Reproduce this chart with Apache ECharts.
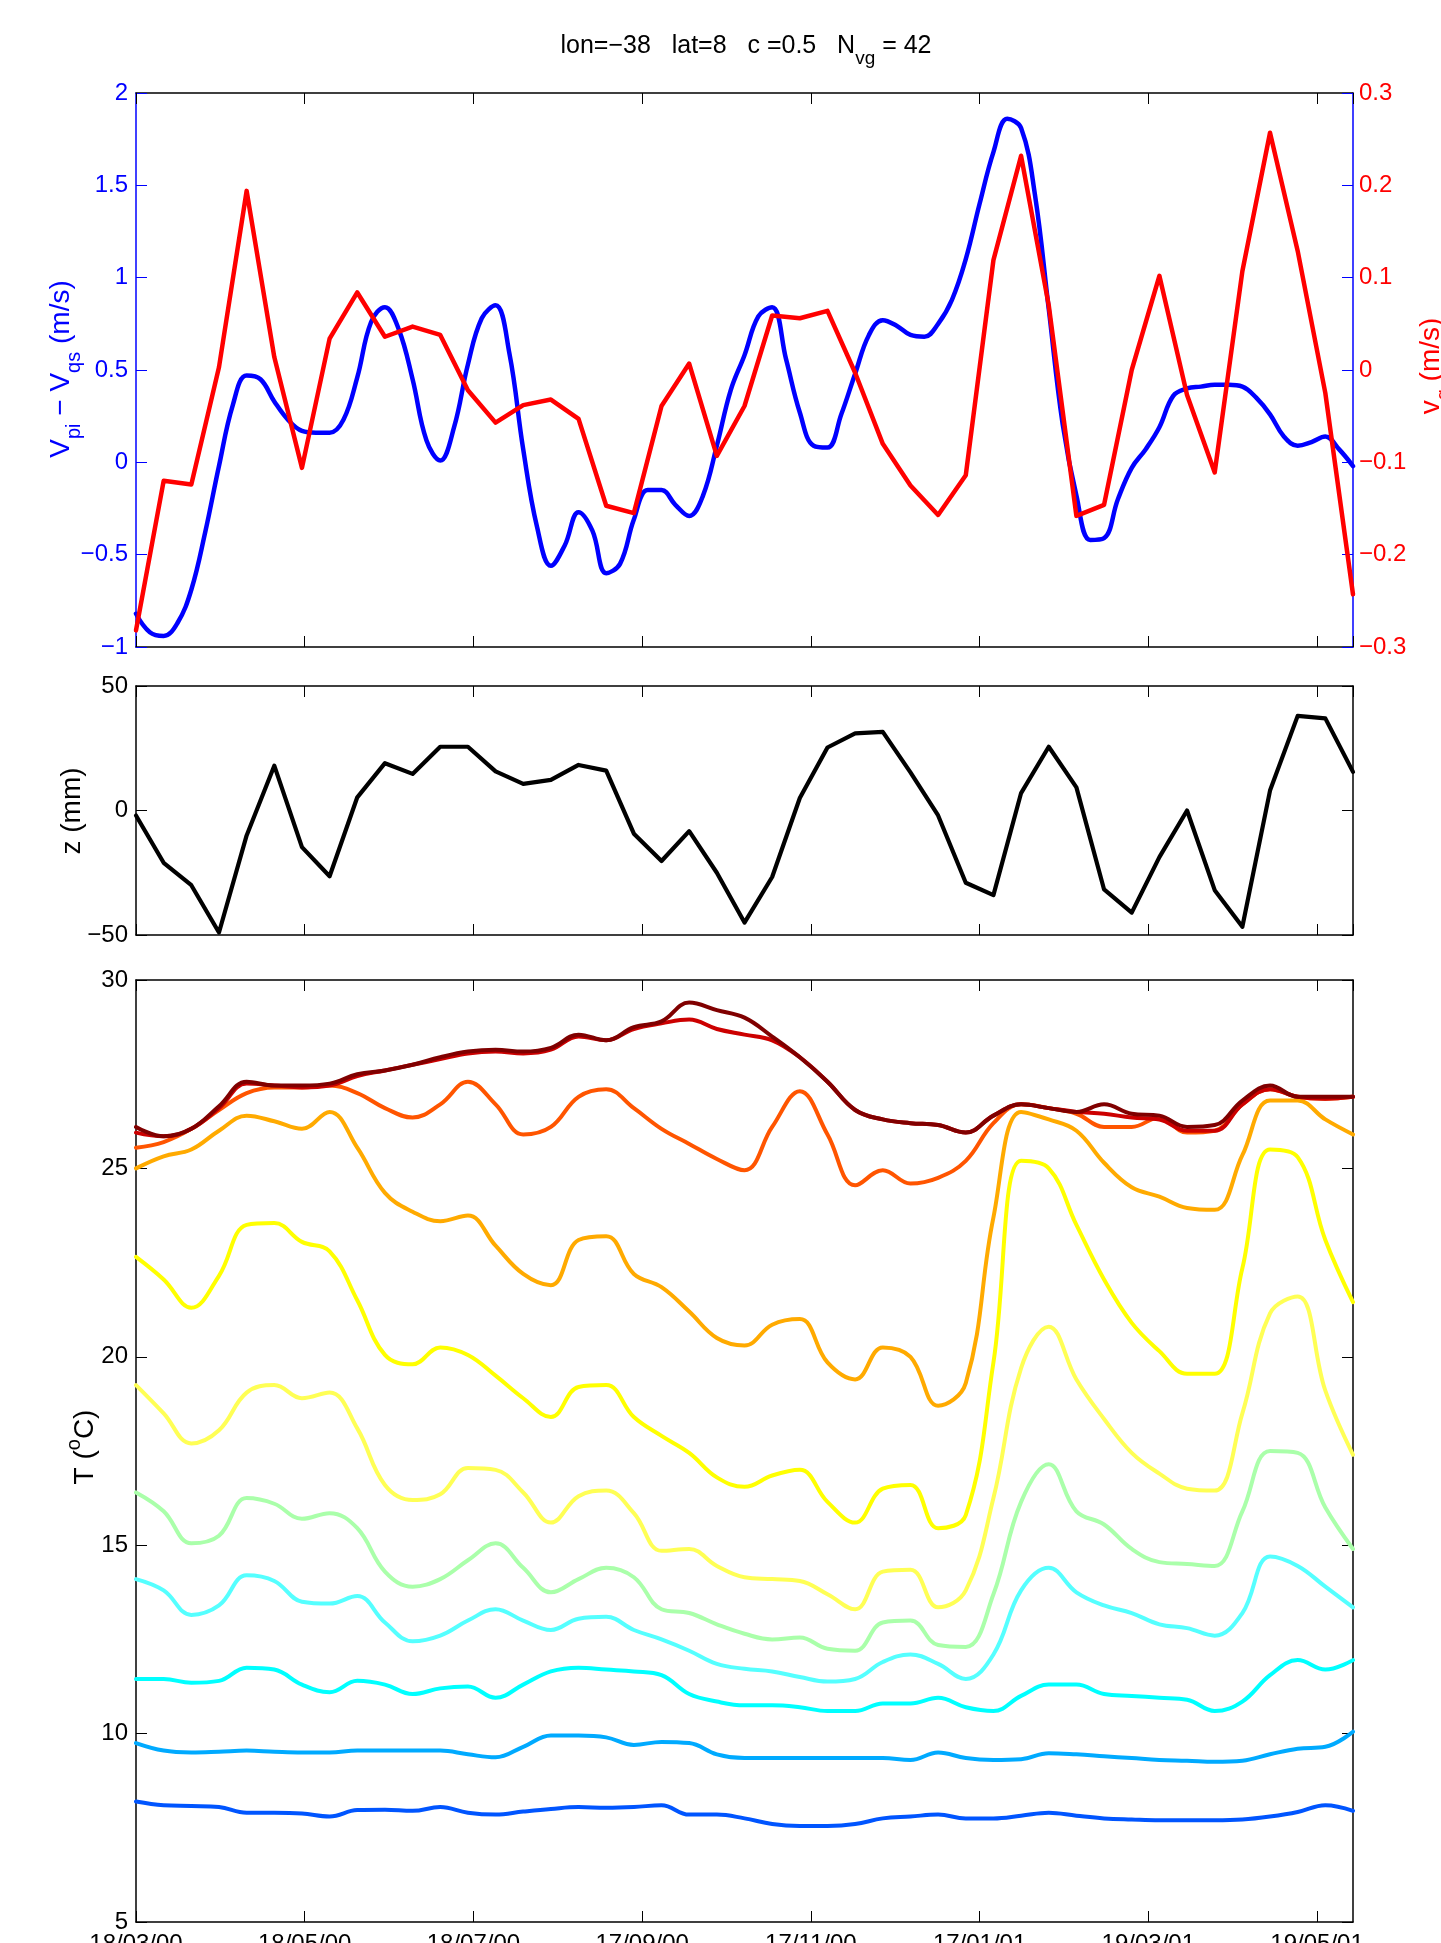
<!DOCTYPE html>
<html><head><meta charset="utf-8">
<script src="https://cdn.jsdelivr.net/npm/echarts@6/dist/echarts.min.js"></script>
<style>html,body{margin:0;padding:0;background:#fff}#c{width:1441px;height:1943px}</style>
</head><body><div id="c"></div><script>
// ---------- DATA ----------
const dayGrid5 = [0,5,10,15,20,25,30,35,40,45,50,55,60,65,70,75,80,85,90,95,100,105,110,115,120,125,130,135,140,145,150,155,160,165,170,175,180,185,190,195,200,205,210,215,220,225,230,235,240,245,250,255,260,265,270,275,280,285,290,295,300,305,310,315,320,325,330,335,340,345,350,355,360,365,370,375,380,385,390,395,400,405,410,415,420,425,430,435,440];
const dayGrid10 = [0,10,20,30,40,50,60,70,80,90,100,110,120,130,140,150,160,170,180,190,200,210,220,230,240,250,260,270,280,290,300,310,320,330,340,350,360,370,380,390,400,410,420,430,440];
const dateTickLabels = ['18/03/00','18/05/00','18/07/00','17/09/00','17/11/00','17/01/01','19/03/01','19/05/01'];

// V_pi - V_qs (m/s), left axis, every 5 days
const vpiMinusVqs = [-0.82,-0.92,-0.94,-0.87,-0.69,-0.38,-0.02,0.31,0.47,0.45,0.33,0.23,0.17,0.16,0.16,0.23,0.46,0.76,0.84,0.72,0.45,0.12,0.01,0.19,0.53,0.78,0.85,0.59,0.07,-0.35,-0.56,-0.45,-0.27,-0.37,-0.60,-0.55,-0.31,-0.15,-0.15,-0.23,-0.29,-0.18,0.09,0.39,0.58,0.79,0.84,0.56,0.27,0.09,0.08,0.26,0.48,0.69,0.77,0.74,0.69,0.68,0.75,0.88,1.10,1.40,1.68,1.86,1.81,1.45,0.83,0.21,-0.18,-0.42,-0.41,-0.20,-0.03,0.07,0.19,0.36,0.40,0.41,0.42,0.42,0.41,0.35,0.26,0.14,0.09,0.11,0.14,0.07,-0.02];
// v_g (m/s), right axis, every 10 days
const vg = [-0.282,-0.12,-0.124,0.003,0.194,0.014,-0.106,0.034,0.084,0.036,0.047,0.038,-0.022,-0.057,-0.038,-0.032,-0.053,-0.147,-0.155,-0.039,0.007,-0.093,-0.039,0.059,0.056,0.064,-0.003,-0.08,-0.125,-0.157,-0.114,0.119,0.232,0.07,-0.158,-0.146,0.0,0.102,-0.027,-0.111,0.107,0.257,0.129,-0.025,-0.243];
// z (mm), every 10 days
const zmm = [-2,-21,-30,-49,-10,18,-14.7,-26.4,5.3,19,14.7,25.6,25.6,15.7,10.7,12.3,18.3,16,-9.3,-20.3,-8.3,-25,-45,-26.7,5,25.3,31,31.6,15.3,-2,-29,-34,7,25.6,9.3,-31.7,-41,-18.7,0,-32,-46.7,8,38,37,15.5];
// Temperature (deg C), every 10 days, shallow to deep
const tempDarkRed     = [26.1,25.85,26.05,26.65,27.3,27.2,27.2,27.25,27.5,27.6,27.75,27.95,28.1,28.15,28.1,28.2,28.55,28.4,28.75,28.9,29.4,29.2,29.0,28.5,27.95,27.3,26.55,26.3,26.2,26.15,25.95,26.4,26.7,26.6,26.5,26.7,26.45,26.4,26.1,26.15,26.8,27.2,26.9,26.9,26.9];
const tempRed         = [25.95,25.85,26.05,26.6,27.25,27.2,27.15,27.2,27.45,27.6,27.75,27.9,28.05,28.1,28.05,28.15,28.5,28.4,28.7,28.85,28.95,28.7,28.55,28.4,27.95,27.3,26.55,26.3,26.2,26.15,25.95,26.4,26.7,26.6,26.5,26.45,26.35,26.3,26.0,26.0,26.7,27.1,26.9,26.85,26.9];
const tempOrangeRed   = [25.55,25.7,26.05,26.55,27.0,27.15,27.15,27.2,27.0,26.6,26.35,26.7,27.3,26.7,25.9,26.1,26.9,27.1,26.6,26.05,25.65,25.25,24.95,26.1,27.05,25.9,24.55,24.95,24.6,24.75,25.2,26.2,26.7,26.6,26.45,26.1,26.1,26.35,25.95,26.0,26.7,27.1,26.9,26.85,26.9];
const tempOrange      = [25.0,25.32,25.5,26.0,26.4,26.25,26.05,26.5,25.55,24.35,23.85,23.6,23.75,22.95,22.2,21.9,23.1,23.2,22.2,21.85,21.2,20.5,20.3,20.85,21.0,19.85,19.4,20.25,20.0,18.7,19.3,23.7,26.5,26.3,26.0,25.15,24.5,24.25,23.95,23.9,25.35,26.8,26.8,26.3,25.9];
const tempYellow      = [22.65,22.05,21.3,22.15,23.5,23.55,23.05,22.8,21.5,20.05,19.8,20.25,20.05,19.5,18.9,18.4,19.2,19.25,18.4,17.9,17.45,16.8,16.55,16.85,17.0,16.15,15.6,16.5,16.6,15.45,15.8,19.85,25.2,25.0,23.5,22.05,20.9,20.15,19.55,19.55,22.35,25.5,25.3,23.1,21.45];
const tempLightYellow = [19.25,18.5,17.7,18.05,19.05,19.25,18.9,19.05,18.1,16.6,16.2,16.35,17.05,17.0,16.4,15.6,16.3,16.45,15.85,14.85,14.9,14.45,14.15,14.1,14.05,13.7,13.3,14.3,14.35,13.35,13.8,16.25,19.7,20.8,19.4,18.35,17.45,16.9,16.5,16.45,18.5,21.15,21.6,19.1,17.4];
const tempLightGreen  = [16.4,15.9,15.05,15.25,16.25,16.1,15.7,15.85,15.45,14.3,13.9,14.1,14.6,15.05,14.4,13.75,14.1,14.4,14.15,13.3,13.2,12.9,12.65,12.5,12.55,12.25,12.2,12.95,13.0,12.35,12.3,13.7,16.15,17.15,15.9,15.55,14.9,14.55,14.5,14.45,15.9,17.5,17.45,16.0,14.9];
const tempLightCyan   = [14.1,13.8,13.15,13.4,14.2,14.05,13.5,13.45,13.65,12.95,12.45,12.6,13.0,13.3,13.0,12.75,13.05,13.1,12.75,12.5,12.2,11.85,11.72,11.65,11.5,11.38,11.45,11.9,12.1,11.85,11.45,12.1,13.8,14.4,13.75,13.4,13.2,12.9,12.8,12.6,13.2,14.7,14.45,13.9,13.35];
const tempCyan        = [11.45,11.45,11.35,11.4,11.75,11.7,11.3,11.1,11.4,11.3,11.05,11.2,11.25,10.95,11.3,11.65,11.75,11.7,11.65,11.55,11.05,10.85,10.75,10.75,10.7,10.6,10.6,10.8,10.8,10.95,10.7,10.6,11.0,11.3,11.3,11.05,11.0,10.95,10.9,10.6,10.85,11.55,11.95,11.7,11.95];
const tempSkyBlue     = [9.75,9.55,9.5,9.52,9.55,9.52,9.5,9.5,9.55,9.55,9.55,9.55,9.45,9.37,9.65,9.95,9.95,9.9,9.7,9.78,9.75,9.45,9.35,9.35,9.35,9.35,9.35,9.35,9.3,9.5,9.35,9.3,9.32,9.48,9.45,9.4,9.35,9.3,9.28,9.25,9.28,9.45,9.6,9.65,10.05];
const tempBlue        = [8.2,8.1,8.08,8.05,7.9,7.9,7.88,7.8,7.97,7.98,7.95,8.05,7.9,7.85,7.93,8.0,8.05,8.03,8.05,8.1,7.85,7.85,7.75,7.6,7.55,7.55,7.6,7.75,7.8,7.85,7.75,7.75,7.82,7.9,7.82,7.75,7.72,7.7,7.7,7.7,7.72,7.8,7.92,8.1,7.95];

// ---------- CHART ----------
const FONT = '"Liberation Sans", Arial, Helvetica, sans-serif';
const FS = 24;      // tick labels
const LFS = 28;     // axis titles
const LSUB = 20;    // axis title sub/superscripts
const chart = echarts.init(document.getElementById('c'), null, {renderer: 'canvas'});

function fmtNum(v) {
  let r = Math.round(v * 100) / 100;
  if (Math.abs(r) < 1e-9) r = 0;
  return (r < 0 ? '\u2212' : '') + String(Math.abs(r));
}
function pairs(xs, ys) { return ys.map((y, i) => [xs[i], y]); }

const grids = [
  {left: 136, top: 93,  width: 1217, height: 554},
  {left: 136, top: 686, width: 1217, height: 249},
  {left: 136, top: 980, width: 1217, height: 942}
].map(g => Object.assign({show: false, containLabel: false, outerBoundsMode: 'none'}, g));

function xAx(gridIndex, position, labels) {
  return {
    type: 'value', gridIndex, position, min: 0, max: 440, interval: 61,
    splitLine: {show: false},
    axisLine: {show: true, onZero: false, lineStyle: {color: '#000', width: 1.5}},
    axisTick: {show: true, inside: true, length: 11, lineStyle: {color: '#000', width: 1}},
    axisLabel: labels ? {
      show: true, margin: 10, fontSize: FS, fontFamily: FONT, color: '#000',
      showMinLabel: true, showMaxLabel: false,
      formatter: v => { const k = Math.round(v / 61); return (Math.abs(v - 61 * k) < 1e-6 && k < dateTickLabels.length) ? dateTickLabels[k] : ''; }
    } : {show: false}
  };
}
function yAx(gridIndex, position, min, max, interval, opts) {
  opts = opts || {};
  return {
    type: 'value', gridIndex, position, min, max, interval,
    splitLine: {show: false},
    axisLine: {show: true, onZero: false, lineStyle: {color: opts.lineColor || '#000', width: 1.5}},
    axisTick: {show: true, inside: true, length: 11, lineStyle: {color: opts.lineColor || '#000', width: 1}},
    axisLabel: opts.labels ? {
      show: true, margin: opts.margin || 8, fontSize: FS, fontFamily: FONT, color: opts.labelColor || '#000',
      showMinLabel: true, showMaxLabel: true, formatter: fmtNum
    } : {show: false}
  };
}

const xAxes = [
  xAx(0, 'bottom', false), xAx(0, 'top', false),
  xAx(1, 'bottom', false), xAx(1, 'top', false),
  xAx(2, 'bottom', true),  xAx(2, 'top', false)
];
const yAxes = [
  yAx(0, 'left', -1, 2, 0.5, {labels: true, lineColor: '#0000ff', labelColor: '#0000ff', margin: 8}),
  yAx(0, 'right', -0.3, 0.3, 0.1, {labels: true, lineColor: '#0000ff', labelColor: '#ff0000', margin: 6}),
  yAx(1, 'left', -50, 50, 50, {labels: true, margin: 8}),
  yAx(1, 'right', -50, 50, 50, {labels: false}),
  yAx(2, 'left', 5, 30, 5, {labels: true, margin: 8}),
  yAx(2, 'right', 5, 30, 5, {labels: false})
];

function lineSeries(name, xi, yi, data, color, width, smooth) {
  return {
    name, type: 'line', xAxisIndex: xi, yAxisIndex: yi, data,
    showSymbol: false, symbol: 'none', smooth: smooth, animation: false,
    lineStyle: {color, width, cap: 'round', join: 'round'}, itemStyle: {color},
    emphasis: {disabled: true}
  };
}

const tempList = [
  ['T11', tempBlue,        '#0055ff'],
  ['T10', tempSkyBlue,     '#00aaff'],
  ['T9',  tempCyan,        '#00ffff'],
  ['T8',  tempLightCyan,   '#55ffff'],
  ['T7',  tempLightGreen,  '#aaffaa'],
  ['T6',  tempLightYellow, '#ffff55'],
  ['T5',  tempYellow,      '#ffff00'],
  ['T4',  tempOrange,      '#ffaa00'],
  ['T3',  tempOrangeRed,   '#ff5500'],
  ['T2',  tempRed,         '#cc0000'],
  ['T1',  tempDarkRed,     '#800000']
];

const series = [
  lineSeries('Vpi-Vqs', 0, 0, pairs(dayGrid5, vpiMinusVqs), '#0000ff', 4.5, 0.4),
  lineSeries('vg', 0, 1, pairs(dayGrid10, vg), '#ff0000', 4.5, false),
  lineSeries('z', 2, 2, pairs(dayGrid10, zmm), '#000000', 4.2, false)
].concat(tempList.map(t => lineSeries(t[0], 4, 4, pairs(dayGrid10, t[1]), t[2], 4, 0.4)));

const titleMain = {fontSize: 25, fontFamily: FONT, verticalAlign: 'top'};
const titleSub  = {fontSize: 19, fontFamily: FONT, verticalAlign: 'top', padding: [15, 0, 0, 0]};
const labMain = {fontSize: LFS, fontFamily: FONT, verticalAlign: 'top'};
const labSub  = {fontSize: LSUB, fontFamily: FONT, verticalAlign: 'top', padding: [17, 0, 0, 0]};

const graphics = [
  {type: 'text', x: 746, y: 51, silent: true, style: {
    text: '{m|lon=\u221238   lat=8   c =0.5   N}{s|vg}{m| = 42}',
    rich: {m: titleMain, s: titleSub}, align: 'center', verticalAlign: 'middle', fill: '#000'}},
  {type: 'text', x: 66, y: 369, rotation: Math.PI / 2, silent: true, style: {
    text: '{m|V}{s|pi}{m| \u2212 V}{s|qs}{m| (m/s)}',
    rich: {m: Object.assign({}, labMain, {color: '#0000ff'}), s: Object.assign({}, labSub, {color: '#0000ff'})},
    align: 'center', verticalAlign: 'middle', fill: '#0000ff'}},
  {type: 'text', x: 1436, y: 366, rotation: Math.PI / 2, silent: true, style: {
    text: '{m|v}{s|g}{m| (m/s)}',
    rich: {m: Object.assign({}, labMain, {color: '#ff0000'}), s: Object.assign({}, labSub, {color: '#ff0000'})},
    align: 'center', verticalAlign: 'middle', fill: '#ff0000'}},
  {type: 'text', x: 72, y: 811, rotation: Math.PI / 2, silent: true, style: {
    text: 'z (mm)', font: LFS + 'px ' + FONT, align: 'center', verticalAlign: 'middle', fill: '#000'}},
  {type: 'text', x: 82, y: 1447, rotation: Math.PI / 2, silent: true, style: {
    text: '{m|T (}{p|o}{m|C)}',
    rich: {m: {fontSize: LFS, fontFamily: FONT, verticalAlign: 'bottom'},
           p: {fontSize: LSUB, fontFamily: FONT, verticalAlign: 'bottom', padding: [0, 0, 15, 0]}},
    align: 'center', verticalAlign: 'middle', fill: '#000'}}
];

chart.setOption({
  animation: false,
  backgroundColor: '#ffffff',
  grid: grids,
  xAxis: xAxes,
  yAxis: yAxes,
  series,
  graphic: graphics
});
</script></body></html>
